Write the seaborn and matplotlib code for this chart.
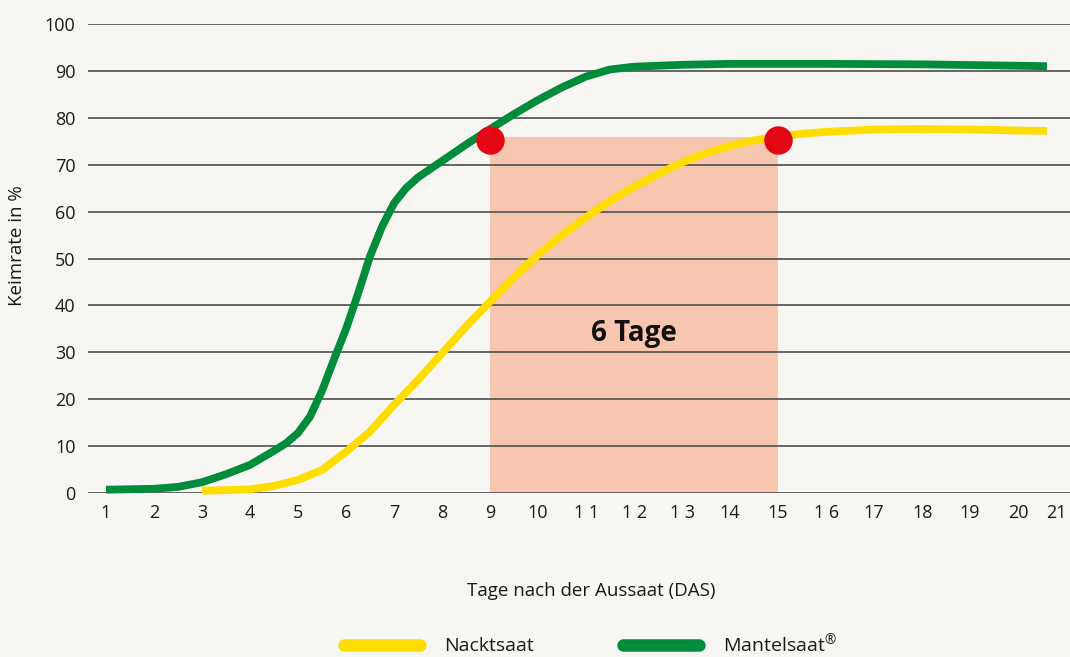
import matplotlib
matplotlib.use("Agg")
import matplotlib.pyplot as plt
from matplotlib.lines import Line2D
import seaborn as sns
import pandas as pd

# ---- data ----
green_days = [1, 2, 2.5, 3, 3.5, 4, 4.5, 4.75, 5, 5.25, 5.5, 5.75, 6, 6.25, 6.5, 6.75, 7,
              7.25, 7.5, 8, 8.5, 9, 9.5, 10, 10.5, 11, 11.5, 12, 13, 14, 16, 18, 20, 20.6]
green_vals = [0.7, 0.9, 1.3, 2.3, 4.0, 6.0, 9.0, 10.6, 12.8, 16.3, 21.8, 28.5, 35.0, 42.5, 50.5, 56.8, 61.8,
              65.0, 67.3, 70.8, 74.3, 77.6, 80.8, 83.8, 86.5, 88.8, 90.3, 90.9, 91.3, 91.5, 91.5, 91.4, 91.1, 91.0]
yellow_days = [3, 3.5, 4, 4.5, 5, 5.5, 6, 6.5, 7, 7.5, 8, 8.5, 9, 9.5, 10, 10.5, 11, 11.5, 12,
               12.5, 13, 13.5, 14, 14.5, 15, 15.5, 16, 17, 18, 19, 20, 20.6]
yellow_vals = [0.5, 0.6, 0.8, 1.5, 2.8, 4.9, 8.8, 13.1, 18.8, 24.1, 29.8, 35.5, 40.8, 46.0, 50.8, 55.0, 58.8, 62.3, 65.3,
               68.0, 70.5, 72.5, 74.0, 75.2, 76.0, 76.6, 77.0, 77.5, 77.6, 77.5, 77.3, 77.2]
series_names = ["Nacktsaat", "Mantelsaat$^{®}$"]
rect_days = [9, 15]
rect_top = 76
dot_days = [9, 15]
dot_vals = [75.3, 75.3]
x_ticks = list(range(1, 22))
x_tick_labels = ["1", "2", "3", "4", "5", "6", "7", "8", "9", "10", "1 1", "1 2", "1 3",
                 "14", "15", "1 6", "17", "18", "19", "20", "21"]
y_ticks = list(range(0, 101, 10))
annot_text = "6 Tage"
annot_pos = (12, 34)

BG = "#f7f6f3"
YELLOW = "#ffdd00"
GREEN = "#008c3a"
RED = "#e30613"
RECT = "#f8c6ae"
TXT = "#1a1a1a"

sns.set_theme(style="white")
plt.rcParams["font.family"] = ["Open Sans", "DejaVu Sans"]
plt.rcParams["mathtext.default"] = "regular"

df = pd.concat([
    pd.DataFrame({"day": yellow_days, "val": yellow_vals, "series": series_names[0]}),
    pd.DataFrame({"day": green_days, "val": green_vals, "series": series_names[1]}),
])

fig = plt.figure(figsize=(10.7, 6.57), dpi=100, facecolor=BG)
ax = fig.add_axes([88 / 1070, (657 - 493) / 657, 1 - 88 / 1070, (493 - 24) / 657])
ax.set_facecolor(BG)

ax.fill_between(rect_days, 0, rect_top, color=RECT, lw=0, zorder=1)

sns.lineplot(data=df, x="day", y="val", hue="series", sort=False, estimator=None,
             palette={series_names[0]: YELLOW, series_names[1]: GREEN},
             linewidth=5.6, legend=False, ax=ax, zorder=3)
for ln in ax.get_lines():
    ln.set_solid_capstyle("butt")
    ln.set_solid_joinstyle("round")
    ln.set_clip_on(False)

ax.scatter(dot_days, dot_vals, s=420, color=RED, zorder=5, linewidths=0)

ax.text(annot_pos[0], annot_pos[1], annot_text, ha="center", va="center",
        fontsize=20, fontweight="bold", color="#111111", zorder=6)

ax.set_xlim(0.625, 21.08)
ax.set_ylim(0, 100)
ax.set_yticks(y_ticks)
ax.set_xticks(x_ticks)
ax.set_xticklabels(x_tick_labels)
ax.tick_params(axis="both", length=0, labelsize=13, colors=TXT)
ax.tick_params(axis="y", pad=9)
ax.tick_params(axis="x", pad=8)
ax.get_xticklabels()[-1].set_ha("right")
ax.yaxis.grid(True, color="#5a5a5a", linewidth=1.3)
ax.xaxis.grid(False)
ax.set_axisbelow("line")
for s in ax.spines.values():
    s.set_visible(False)

ax.set_xlabel("Tage nach der Aussaat (DAS)", fontsize=13.5, color=TXT)
ax.xaxis.set_label_coords(0.512, -0.19)
ax.set_ylabel("Keimrate in %", fontsize=13.5, color=TXT)
ax.yaxis.set_label_coords(-0.063, 0.527)

handles = [Line2D([0], [0], color=YELLOW, lw=9, solid_capstyle="round"),
           Line2D([0], [0], color=GREEN, lw=9, solid_capstyle="round")]
fig.legend(handles, series_names, loc="center", bbox_to_anchor=(0.552, 0.02),
           ncol=2, frameon=False, fontsize=14, handlelength=3.9, handletextpad=1.25,
           columnspacing=4.6, labelcolor=TXT, borderaxespad=0, borderpad=0)

fig.savefig("out.png", dpi=100, facecolor=BG)
